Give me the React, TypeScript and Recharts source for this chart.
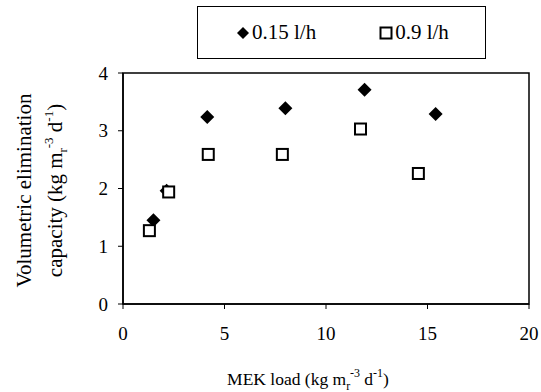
import React from 'react'
import { ScatterChart, Scatter, XAxis, YAxis, ReferenceArea, Label } from 'recharts'

// MEK load vs volumetric elimination capacity, two flow rates
const lowFlowLoad = [1.5, 2.15, 4.15, 8.0, 11.9, 15.4]
const lowFlowEc = [1.45, 1.96, 3.24, 3.39, 3.71, 3.29]
const highFlowLoad = [1.3, 2.25, 4.2, 7.85, 11.7, 14.55]
const highFlowEc = [1.27, 1.94, 2.59, 2.59, 3.03, 2.26]

const xTicks = [0, 5, 10, 15, 20]
const yTicks = [0, 1, 2, 3, 4]

const lowFlow = lowFlowLoad.map((x, i) => ({ x, y: lowFlowEc[i] }))
const highFlow = highFlowLoad.map((x, i) => ({ x, y: highFlowEc[i] }))

const FONT = 'Liberation Serif'
const FS = 19

const Diamond = (props: any) => {
  const { cx, cy } = props
  const r = 7
  return <path d={`M${cx},${cy - r}L${cx + r},${cy}L${cx},${cy + r}L${cx - r},${cy}Z`} fill="#000" />
}

const Square = (props: any) => {
  const { cx, cy } = props
  const s = 11
  return <rect x={cx - s / 2} y={cy - s / 2} width={s} height={s} fill="#fff" stroke="#000" strokeWidth={2} />
}

const LegendBox = () => (
  <div
    style={{
      position: 'absolute',
      left: 197,
      top: 6,
      width: 287,
      height: 51,
      border: '1px solid #000',
      display: 'flex',
      alignItems: 'center',
      fontFamily: FONT,
      fontSize: 21,
      color: '#000',
      background: '#fff',
    }}
  >
    <svg width={14} height={14} style={{ marginLeft: 38, marginRight: 2 }}>
      <path d="M7,1L13,7L7,13L1,7Z" fill="#000" />
    </svg>
    <span>0.15 l/h</span>
    <svg width={14} height={14} style={{ marginLeft: 63, marginRight: 2 }}>
      <rect x={1.5} y={1.5} width={11} height={11} fill="#fff" stroke="#000" strokeWidth={2} />
    </svg>
    <span>0.9 l/h</span>
  </div>
)

const YLabel = (props: any) => {
  const { viewBox } = props
  const cy = viewBox.y + viewBox.height / 2 + 2
  return (
    <text
      transform={`translate(0,${cy}) rotate(-90)`}
      textAnchor="middle"
      fontFamily={FONT}
      fontSize={21}
      fill="#000"
    >
      <tspan x={0} y={31}>Volumetric elimination</tspan>
      <tspan x={0} y={62}>
        capacity (kg m
        <tspan fontSize={13} dy={5}>r</tspan>
        <tspan fontSize={13} dy={-14}>-3</tspan>
        <tspan dy={9}> d</tspan>
        <tspan fontSize={13} dy={-9}>-1</tspan>
        <tspan dy={9}>)</tspan>
      </tspan>
    </text>
  )
}

const XLabel = () => (
  <text x={308} y={385} textAnchor="middle" fontFamily={FONT} fontSize={17.5} fill="#000">
    MEK load (kg m
    <tspan fontSize={12} dy={5}>r</tspan>
    <tspan fontSize={12} dy={-13}>-3</tspan>
    <tspan dy={8}> d</tspan>
    <tspan fontSize={12} dy={-8}>-1</tspan>
    <tspan dy={8}>)</tspan>
  </text>
)

export default function App() {
  return (
    <div style={{ position: 'absolute', left: 0, top: 0, width: 541, height: 392, background: '#fff' }}>
      <ScatterChart width={541} height={392} margin={{ top: 73, right: 12, bottom: 58, left: 83 }}>
        <XAxis
          type="number"
          dataKey="x"
          domain={[0, 20]}
          ticks={xTicks}
          height={30}
          tickSize={5}
          tickMargin={18}
          axisLine={{ stroke: '#000', strokeWidth: 1.5 }}
          tickLine={{ stroke: '#000' }}
          tick={{ fill: '#000', fontFamily: FONT, fontSize: FS }}
        >
          <Label content={<XLabel />} />
        </XAxis>
        <YAxis
          type="number"
          dataKey="y"
          domain={[0, 4]}
          ticks={yTicks}
          width={40}
          tickSize={5}
          tickMargin={10}
          axisLine={{ stroke: '#000', strokeWidth: 1.5 }}
          tickLine={{ stroke: '#000' }}
          tick={{ fill: '#000', fontFamily: FONT, fontSize: FS }}
        >
          <Label content={<YLabel />} />
        </YAxis>
        <ReferenceArea x1={0} x2={20} y1={0} y2={4} fill="none" stroke="#000" strokeWidth={1.5} ifOverflow="visible" />
        <Scatter name="0.15 l/h" data={lowFlow} shape={<Diamond />} isAnimationActive={false} />
        <Scatter name="0.9 l/h" data={highFlow} shape={<Square />} isAnimationActive={false} />
      </ScatterChart>
      <LegendBox />
    </div>
  )
}
